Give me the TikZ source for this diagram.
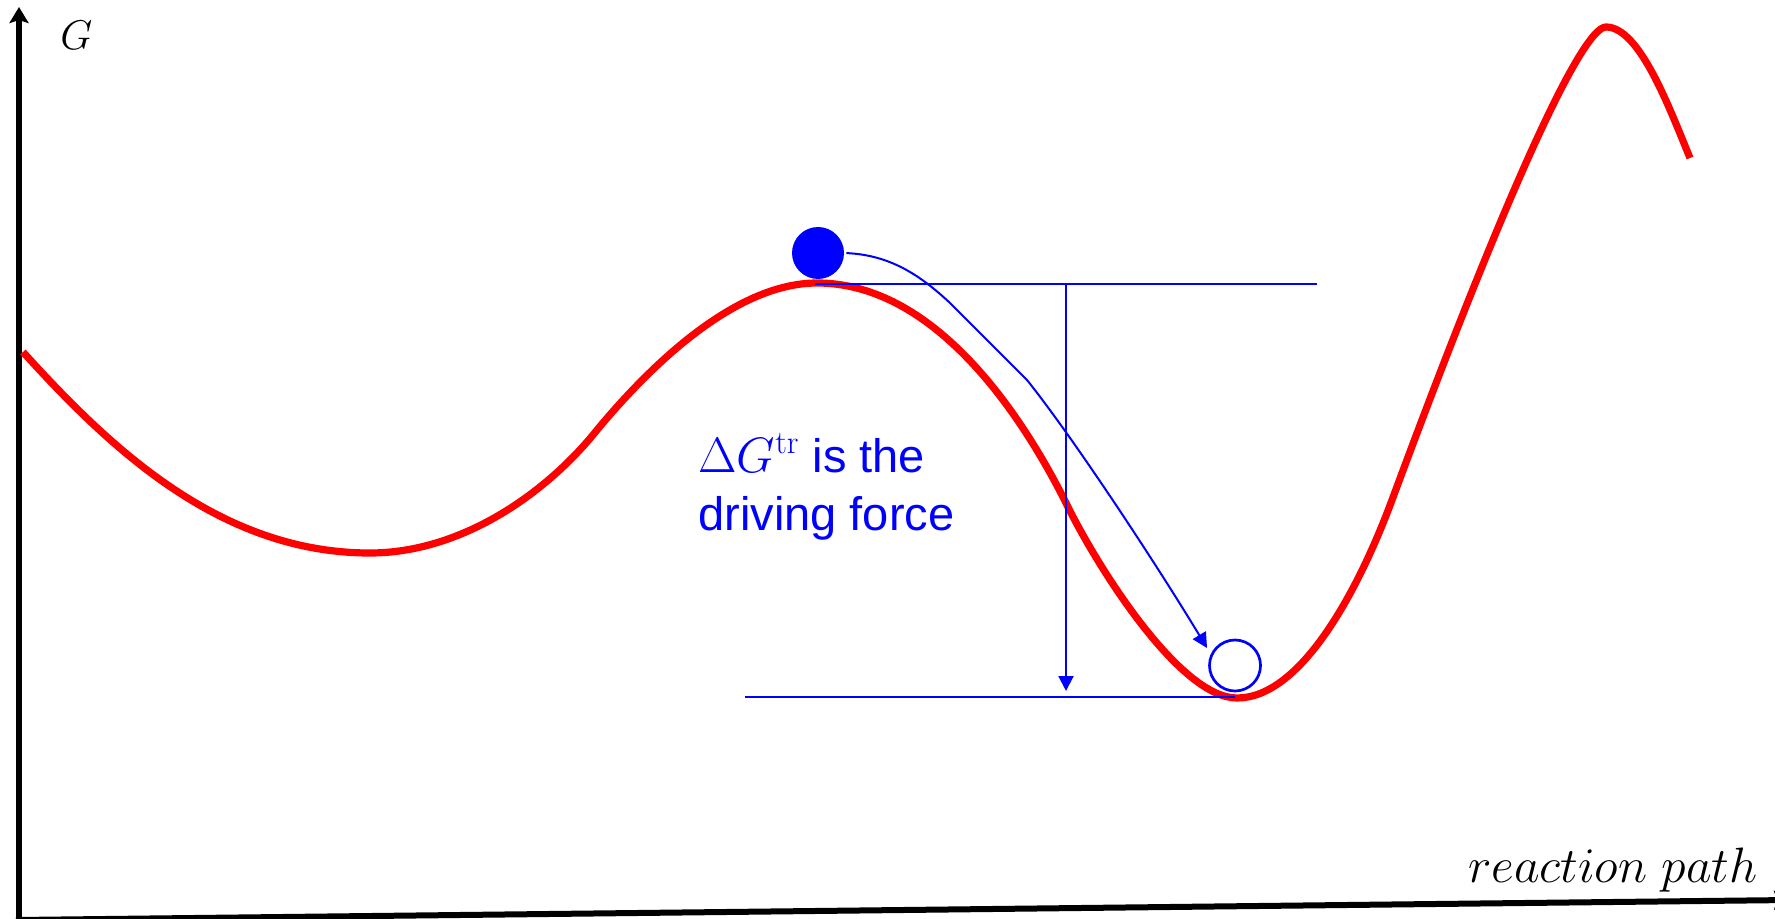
\documentclass[tikz,border=0pt]{standalone}
\usepackage{fontspec}
\newfontfamily\arialfont{Liberation Sans}
\usetikzlibrary{arrows.meta}
\begin{document}
\begin{tikzpicture}[x=0.5pt,y=-0.5pt,
  axisline/.style={draw=black, line width=3pt},
  redcurve/.style={draw=red, line width=3.6pt},
  thinblue/.style={draw=blue, line width=0.65pt},
  bluearrow/.style={draw=blue, line width=1pt, -{Triangle[length=7.5pt,width=7.5pt]}},
  txt/.style={text=blue, font=\arialfont\fontsize{23.5}{29}\selectfont, inner sep=0pt, anchor=base west},
  axlabel/.style={inner sep=0pt, anchor=base west}]
\useasboundingbox (0,0) rectangle (1775,919);
\clip (0,0) rectangle (1775,919);
% coordinates
\coordinate (yb) at (19,925);
\coordinate (yt) at (19,7);
\coordinate (xl) at (16,920);
\coordinate (xr) at (1790,900);
\coordinate (topL) at (815,284);
\coordinate (topR) at (1317,284);
\coordinate (botL) at (745,697);
\coordinate (botR) at (1235,697);
\coordinate (vtop) at (1066,284);
\coordinate (vbot) at (1066,691);
\coordinate (k1) at (950,303);
\coordinate (k2) at (1027,380);
\coordinate (tip) at (1207,648);
% axes
\draw[axisline, -{Stealth[length=8pt,width=9.5pt,inset=1.5pt]}] (yb) -- (yt);
\draw[axisline, -{Stealth[length=8pt,width=9.5pt,inset=1.5pt]}] (xl) -- (xr);
\node[axlabel, font=\fontsize{20}{24}\selectfont] (G) at (60,50) {$G$};
\node[axlabel, font=\fontsize{24}{28}\selectfont] (rp) at (1468,882) {$reaction\ path$};
% energy curve
\draw[redcurve] (23,352) .. controls (110,448) and (220,553) .. (370,553)
  .. controls (460,553) and (545,495) .. (597,430)
  .. controls (650,366) and (735,283) .. (817,283)
  .. controls (950,283) and (1040,451) .. (1067,505)
  .. controls (1098,568) and (1180,698) .. (1237,698)
  .. controls (1300,698) and (1357,594) .. (1392,500)
  .. controls (1506.5,190.5) and (1582,27) .. (1606,27)
  .. controls (1640,27) and (1670,110) .. (1690,158);
% levels
\draw[thinblue] (topL) -- (topR);
\draw[thinblue] (botL) -- (botR);
\draw[bluearrow] (vtop) -- (vbot);
% balls
\node[circle, fill=blue, inner sep=0pt, minimum size=26pt] (ball) at (818,253) {};
\node[circle, draw=blue, line width=1.35pt, inner sep=0pt, minimum size=25.5pt] (ball2) at (1235,665.5) {};
\draw[bluearrow, shorten <=1pt] (ball.east) .. controls (890,255) and (920,275) .. (k1) -- (k2)
  .. controls (1075,440) and (1160,570) .. (tip);
% text
\node[txt] (t1) at (698,472) {$\Delta G^{\mathrm{tr}}$ is the};
\node[txt] (t2) at (698,530) {driving force};
\end{tikzpicture}
\end{document}
